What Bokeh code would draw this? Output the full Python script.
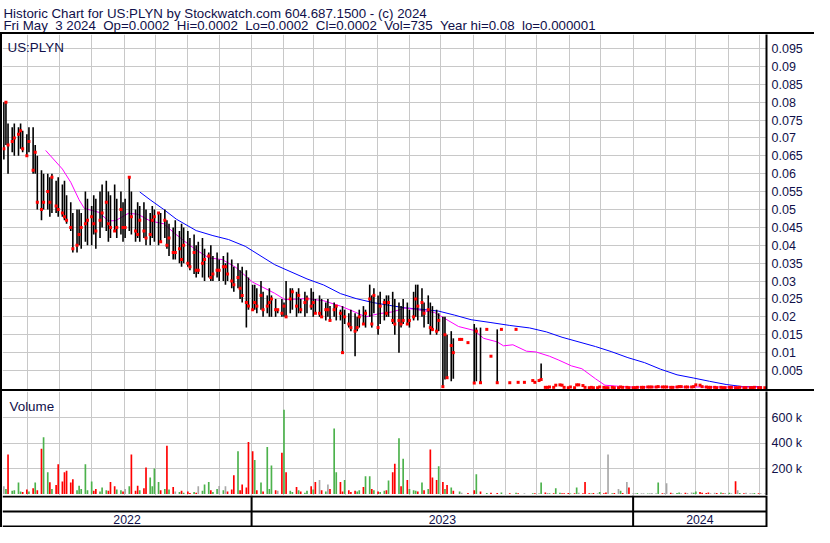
import numpy as np
import pandas as pd
from bokeh.plotting import figure
from bokeh.layouts import column, row
from bokeh.models import (Range1d, FixedTicker, MonthsTicker, Div, Span, Label,
                          ColumnDataSource)
from bokeh.embed import file_html
from bokeh.resources import INLINE
from bokeh.core.properties import value

# ---------------------------------------------------------------- texts
TITLE_1 = "Historic Chart for US:PLYN by Stockwatch.com 604.687.1500 - (c) 2024"
TITLE_2 = ("Fri May  3 2024  Op=0.0002  Hi=0.0002  Lo=0.0002  Cl=0.0002  "
           "Vol=735  Year hi=0.08  lo=0.000001")
SYMBOL = "US:PLYN"
VOLUME_TITLE = "Volume"

# ---------------------------------------------------------------- data
# one session out of every two trading days, starting here (None = no trade)
FIRST_SESSION = "2022-05-09"

# prices in thousandths of a dollar
HIGH_MILLI = [
    80, 80, 74, 73, 74, 73, 74, 72, 71, 73,
    73, 68, 65, 61, 60, 60, 59, 60, 58, 59,
    57, 58, 54, 52, 49, 50, 50, 49, 55, 53,
    51, 54, 53, 55, 57, 58, 55, 54, 57, 53,
    55, 52, 53, 59, 55, 50, 52, 51, 52, 50,
    49, 51, 50, 49, 49, 50, 47, 46, 45, 47,
    44, 46, 45, 44, 42, 43, 40, 41, 42, 39,
    38, 40, 37, 38, 36, 37, 35, 38, 36, 34,
    35, 33, 34, 33, 31, 29, 29, 28, 30, 27,
    26, 28, 26, 25, 22, 25, 24, 30, 28, 28,
    27, 28, 25, 27, 26, 28, 27, 25, 26, 25,
    24, 25, 23, 24, 23, 22, 23, 22, 21, 22,
    21, 20, 22, 23, 22, 29, 26, 28, 26, 27,
    25, 26, 26, 27, 25, 24, 23, 25, 24, 22,
    27, 29, 29, 28, 24, 26, 24, 23, 22, 21,
    20, 20, 15, 16, 14, None, 13.7, 13.7, None, 12.8,
    None, 18, 17, 17, None, 16.5, None, 9, None, 16.5,
    16.5, None, None, 1.6, None, 16.5, 1.7, None, 1.7, None,
    None, 2.2, 1.7, 2.2, 7, 0.3, 0.3, 0.4, 0.3, 0.9,
    1.0, 0.9, 0.6, 0.2, 0.4, 0.2, 1.0, 1.0, 0.8, 0.3,
    0.2, 0.3, 0.2, 0.2, 0.4, 0.3, 0.2, 0.2, 0.3, 0.2,
    0.2, 0.4, 0.3, 0.3, 0.2, 0.2, 0.2, 0.3, 0.3, 0.3,
    0.4, 0.4, 0.4, 0.4, 0.5, 0.4, 0.4, 0.4, 0.3, 0.3,
    0.4, 0.5, 0.5, 0.4, 0.4, 0.4, 0.5, 1.0, 0.9, 0.5,
    0.4, 0.3, 0.3, 0.3, 0.2, 0.3, 0.2, 0.2, 0.3, 0.3,
    0.2, 0.2, 0.3, 0.2, 0.2, 0.2, 0.2, 0.3, 0.2, 0.2,
    0.2,
]
LOW_MILLI = [
    64, 68, 60, 66, 65, 65, 67, 66, 65, 66,
    60, 60, 50, 47, 50, 50, 48, 49, 49, 48,
    48, 47, 46, 44, 38, 38, 40, 39, 41, 40,
    40, 43, 39, 42, 45, 44, 41, 42, 44, 42,
    43, 41, 42, 44, 43, 41, 42, 41, 42, 40,
    40, 42, 41, 40, 41, 42, 39, 37, 36, 36,
    35, 34, 35, 34, 33, 32, 31, 32, 31, 30,
    31, 30, 30, 31, 30, 30, 29, 30, 28, 27,
    28, 25, 24, 17, 22, 22, 22, 21, 22, 20,
    21, 20, 20, 20, 21, 20, 20, 20, 21, 22,
    20, 21, 21, 20, 21, 22, 20, 21, 20, 20,
    19, 20, 19, 20, 19, 19, 10, 18, 17, 16,
    9, 16, 17, 18, 17, 20, 17, 21, 15, 18,
    19, 20, 20, 18, 15, 10, 17, 18, 18, 17,
    19, 20, 19, 20, 17, 18, 15, 16, 15, 16,
    0.5, 2.5, 3, 2, 2.7, None, 13.7, 13.7, None, 12.8,
    None, 1.5, 2, 1.6, None, 16.5, None, 9, None, 1.6,
    16.5, None, None, 1.6, None, 16.5, 1.7, None, 1.7, None,
    None, 2.2, 1.7, 2.2, 2.2, 0.3, 0.3, 0.4, 0.3, 0.9,
    1.0, 0.9, 0.3, 0.2, 0.4, 0.2, 1.0, 1.0, 0.8, 0.3,
    0.2, 0.3, 0.2, 0.2, 0.4, 0.3, 0.2, 0.2, 0.3, 0.2,
    0.2, 0.4, 0.3, 0.3, 0.2, 0.2, 0.2, 0.3, 0.3, 0.3,
    0.4, 0.4, 0.4, 0.4, 0.5, 0.4, 0.4, 0.4, 0.3, 0.3,
    0.4, 0.5, 0.5, 0.4, 0.4, 0.4, 0.5, 1.0, 0.9, 0.5,
    0.4, 0.3, 0.3, 0.3, 0.2, 0.3, 0.2, 0.2, 0.3, 0.3,
    0.2, 0.2, 0.3, 0.2, 0.2, 0.2, 0.2, 0.3, 0.2, 0.2,
    0.2,
]
CLOSE_MILLI = [
    67, 80, 68, 69, 70, 71, 72, 67, 65, 69,
    61, 66, 52, 50, 52, 55, 52, 59, 51, 50,
    49, 48, 47, 45, 39, 40, 43, 45, 46, 47,
    48, 46, 44, 47, 49, 52, 46, 45, 44, 45,
    50, 45, 45, 59, 48, 44, 43, 47, 44, 42,
    43, 47, 48, 49, 41, 47, 40, 42, 38, 38,
    39, 36, 40, 35, 34, 38, 33, 33, 35, 36,
    37, 31, 32, 33, 33, 34, 34, 32, 30, 29,
    31, 28, 26, 24, 23, 22, 24, 23, 26, 22,
    23, 24, 25, 22, 22, 21, 23, 20, 25, 27,
    23, 26, 22, 24, 25, 23, 24, 21, 21, 20,
    22, 22, 19, 22, 23, 21, 10, 20, 18, 17,
    16, 17, 20, 18, 21, 25, 18, 26, 17, 23,
    24, 21, 24, 19, 18, 19, 18, 19, 18, 19,
    20, 25, 23, 24, 21, 22, 17, 16.5, 16, 19,
    0.5, 15, 3, 12, 10, None, 13.7, 13.7, None, 12.8,
    None, 1.5, 16, 1.6, None, 16.5, None, 9, None, 1.6,
    16.5, None, None, 1.6, None, 16.5, 1.7, None, 1.7, None,
    None, 2.2, 1.7, 2.2, 2.5, 0.3, 0.3, 0.4, 0.3, 0.9,
    1.0, 0.9, 0.3, 0.2, 0.4, 0.2, 1.0, 1.0, 0.8, 0.3,
    0.2, 0.3, 0.2, 0.2, 0.4, 0.3, 0.2, 0.2, 0.3, 0.2,
    0.2, 0.4, 0.3, 0.3, 0.2, 0.2, 0.2, 0.3, 0.3, 0.3,
    0.4, 0.4, 0.4, 0.4, 0.5, 0.4, 0.4, 0.4, 0.3, 0.3,
    0.4, 0.5, 0.5, 0.4, 0.4, 0.4, 0.5, 1.0, 0.9, 0.5,
    0.4, 0.3, 0.3, 0.3, 0.2, 0.3, 0.2, 0.2, 0.3, 0.3,
    0.2, 0.2, 0.3, 0.2, 0.2, 0.2, 0.2, 0.3, 0.2, 0.2,
    0.2,
]
# volume in thousands of shares
VOLUME_K = [
    60, 40, 310, 25, 30, 90, 20, 15, 35, 20,
    45, 90, 30, 356, 446, 170, 92, 40, 70, 233,
    97, 170, 182, 90, 115, 30, 65, 40, 233, 30,
    97, 25, 40, 20, 50, 30, 25, 95, 60, 35,
    30, 20, 40, 60, 310, 25, 65, 30, 45, 207,
    130, 60, 200, 95, 30, 40, 379, 35, 55, 20,
    15, 25, 10, 20, 8, 15, 10, 60, 25, 75,
    95, 30, 15, 40, 62, 30, 60, 20, 35, 148,
    336, 30, 75, 50, 408, 336, 267, 30, 90, 20,
    369, 40, 223, 30, 25, 323, 661, 170, 25, 15,
    55, 30, 20, 10, 25, 60, 35, 95, 110, 30,
    20, 75, 40, 515, 170, 95, 20, 110, 30, 15,
    25, 20, 30, 55, 140, 140, 40, 30, 20, 15,
    25, 30, 105, 170, 238, 438, 60, 277, 110, 40,
    30, 25, 20, 90, 30, 40, 349, 130, 110, 217,
    95, 40, 70, 50, 25, 0, 20, 10, 0, 8,
    0, 30, 155, 20, 0, 8, 0, 10, 0, 8,
    12, 0, 0, 5, 0, 10, 5, 0, 6, 0,
    0, 5, 6, 4, 90, 12, 8, 5, 6, 45,
    10, 6, 5, 8, 4, 6, 50, 10, 6, 95,
    5, 4, 8, 6, 15, 5, 12, 310, 6, 8,
    40, 25, 8, 95, 50, 6, 5, 8, 6, 5,
    4, 6, 8, 5, 90, 6, 8, 85, 10, 6,
    8, 12, 6, 10, 8, 12, 10, 20, 15, 10,
    8, 12, 6, 10, 8, 12, 6, 8, 10, 6,
    100, 30, 8, 6, 10, 5, 6, 8, 5, 6,
    4,
]

# short moving average (magenta), thousandths of a dollar
FAST_MA_DATES = [
    "2022-06-18", "2022-07-04", "2022-07-12", "2022-07-20", "2022-07-25",
    "2022-08-08", "2022-08-17", "2022-08-24", "2022-09-05", "2022-09-14",
    "2022-09-26", "2022-10-09", "2022-10-18", "2022-10-28", "2022-11-09",
    "2022-11-21", "2022-12-04", "2022-12-17", "2023-01-02", "2023-01-23",
    "2023-02-02", "2023-02-23", "2023-03-11", "2023-03-27", "2023-04-08",
    "2023-04-20", "2023-05-03", "2023-05-16", "2023-05-28", "2023-06-13",
    "2023-06-25", "2023-07-08", "2023-07-18", "2023-08-02", "2023-08-11",
    "2023-08-24", "2023-08-30", "2023-09-08", "2023-09-21", "2023-09-30",
    "2023-10-13", "2023-10-22", "2023-11-03", "2023-11-13", "2023-11-26",
    "2023-12-05", "2023-12-27", "2024-02-21", "2024-05-03",
]
FAST_MA_MILLI = [
    66.5, 61.3, 57.6, 52.7, 50.3, 49.2, 46.8, 46.9, 48.9, 48.7,
    46.8, 46.0, 43.7, 41.3, 38.7, 36.5, 36.0, 33.8, 29.7, 26.6,
    24.8, 25.1, 24.5, 23.0, 21.6, 20.0, 20.9, 21.4, 22.5, 21.8,
    21.2, 19.0, 17.3, 16.2, 14.0, 13.0, 11.9, 12.2, 10.4, 10.2,
    9.0, 7.9, 6.3, 5.5, 2.7, 0.9, 0.4, 0.4, 0.4,
]
# long moving average (blue), thousandths of a dollar
SLOW_MA_DATES = [
    "2022-09-16", "2022-09-26", "2022-10-09", "2022-10-21", "2022-11-09",
    "2022-11-25", "2022-12-10", "2022-12-26", "2023-01-23", "2023-02-02",
    "2023-02-23", "2023-03-11", "2023-03-27", "2023-04-11", "2023-04-27",
    "2023-05-13", "2023-05-28", "2023-06-13", "2023-06-29", "2023-07-14",
    "2023-07-30", "2023-08-18", "2023-09-05", "2023-09-24", "2023-10-10",
    "2023-10-25", "2023-11-26", "2023-12-11", "2023-12-27", "2024-01-12",
    "2024-01-27", "2024-02-12", "2024-02-28", "2024-03-14", "2024-03-30",
    "2024-04-15", "2024-05-03",
]
SLOW_MA_MILLI = [
    54.9, 52.7, 50.0, 47.3, 44.1, 42.7, 41.6, 39.7, 34.6, 33.3,
    30.6, 28.9, 26.5, 25.1, 24.0, 23.2, 22.5, 22.1, 21.6, 20.5,
    19.2, 18.4, 17.6, 16.9, 15.8, 14.3, 11.7, 10.3, 8.6, 7.2,
    5.4, 3.8, 2.9, 2.0, 1.1, 0.5, 0.5,
]

PRICE_TICKS = [0.005, 0.01, 0.015, 0.02, 0.025, 0.03, 0.035, 0.04, 0.045, 0.05,
               0.055, 0.06, 0.065, 0.07, 0.075, 0.08, 0.085, 0.09, 0.095]
PRICE_TICK_LABELS = ["0.005", "0.01", "0.015", "0.02", "0.025", "0.03", "0.035",
                     "0.04", "0.045", "0.05", "0.055", "0.06", "0.065", "0.07",
                     "0.075", "0.08", "0.085", "0.09", "0.095"]
VOLUME_TICKS = [200000, 400000, 600000]
VOLUME_TICK_LABELS = ["200 k", "400 k", "600 k"]
YEARS = [2022, 2023, 2024]
VIEW_START = "2022-05-07 16:48"
VIEW_END = "2024-05-07 14:24"
PRICE_VIEW = (-0.0003, 0.0989)
VOLUME_VIEW = (-12000, 805000)

# ---------------------------------------------------------------- style
FONT = "Liberation Sans"
NAVY = "#10104a"
GRID_COLOR = "#c8c8c8"
UP, DOWN, FLAT = "#4cb24c", "#ff0000", "#a8a8a8"
TOTAL_W = 814
PANEL_W = 812
RIGHT_W = 48
H_HEAD, H_PRICE, H_VOL, H_DATE = 32, 355, 104, 32

# ---------------------------------------------------------------- prepare
dates = pd.bdate_range(FIRST_SESSION, periods=len(CLOSE_MILLI), freq="2B")
high = np.array(HIGH_MILLI, dtype=float) / 1000.0
low = np.array(LOW_MILLI, dtype=float) / 1000.0
close = np.array(CLOSE_MILLI, dtype=float) / 1000.0
volume = np.array(VOLUME_K, dtype=float) * 1000.0
last = pd.Series(close).ffill().to_numpy()
prev = np.concatenate([[last[0]], last[:-1]])
vcolor = np.where(last > prev, UP, np.where(last < prev, DOWN, FLAT))

src = ColumnDataSource(dict(date=dates, high=high, low=low, close=close,
                            volume=volume, vcolor=vcolor))

x_range = Range1d(pd.Timestamp(VIEW_START), pd.Timestamp(VIEW_END))


def panel(height, y_range, ticks, labels):
    p = figure(width=PANEL_W, height=height, x_range=x_range, y_range=y_range,
               x_axis_type="datetime", x_axis_location=None,
               y_axis_location="right", output_backend="svg",
               toolbar_location=None, min_border_left=0,
               min_border_right=RIGHT_W, min_border_top=0, min_border_bottom=0,
               outline_line_color=None, background_fill_color="white",
               border_fill_color="white")
    for g in p.xgrid:
        g.ticker = MonthsTicker(months=list(range(1, 13)))
    p.xgrid.grid_line_color = GRID_COLOR
    p.ygrid.grid_line_color = GRID_COLOR
    ax = p.yaxis[0]
    ax.ticker = FixedTicker(ticks=ticks)
    ax.major_label_overrides = dict(zip(ticks, labels))
    ax.axis_line_color = "black"
    ax.axis_line_width = 2
    ax.major_tick_line_color = None
    ax.minor_tick_line_color = None
    ax.major_tick_out = 0
    ax.major_tick_in = 0
    ax.major_label_standoff = 5
    ax.major_label_text_font = FONT
    ax.major_label_text_font_size = "12.5px"
    ax.major_label_text_color = NAVY
    return p


def strip(w, h):
    return Div(text="", width=w, height=h, margin=(0, 0, 0, 0),
               styles={"background-color": "black"})


def keep_spaces(s):
    return s.replace("  ", " \u00a0")


# header
header = figure(width=TOTAL_W, height=H_HEAD, x_range=Range1d(0, 1),
                y_range=Range1d(0, 1), x_axis_location=None,
                y_axis_location=None, output_backend="svg",
                toolbar_location=None, min_border=0, outline_line_color=None)
header.xgrid.visible = False
header.ygrid.visible = False
for txt, yy in ((TITLE_1, 19.5), (TITLE_2, 7.0)):
    header.add_layout(Label(x=3, y=yy, x_units="screen", y_units="screen",
                            text=keep_spaces(txt), text_font=FONT,
                            text_font_size="13.3px", text_color=NAVY,
                            text_baseline="alphabetic"))

# price panel
price = panel(H_PRICE, Range1d(*PRICE_VIEW), PRICE_TICKS, PRICE_TICK_LABELS)
price.line(x=pd.to_datetime(SLOW_MA_DATES), y=np.array(SLOW_MA_MILLI) / 1000.0,
           line_color="#0000ff", line_width=1)
price.line(x=pd.to_datetime(FAST_MA_DATES), y=np.array(FAST_MA_MILLI) / 1000.0,
           line_color="#ff00ff", line_width=1)
price.segment(x0="date", y0="low", x1="date", y1="high", source=src,
              line_color="black", line_width=1.6)
price.scatter(x="date", y="close", source=src, marker="square", size=3,
              fill_color="#ff0000", line_color=None)
price.add_layout(Label(x=5, y=H_PRICE - 12.5, x_units="screen", y_units="screen",
                       text=SYMBOL, text_font=FONT, text_font_size="13.4px",
                       text_color=NAVY, text_baseline="alphabetic"))

# volume panel
vol = panel(H_VOL, Range1d(*VOLUME_VIEW), VOLUME_TICKS, VOLUME_TICK_LABELS)
vol.vbar(x="date", top="volume", bottom=0, width=1.6 * 86400000, source=src,
         fill_color="vcolor", line_color=None)
vol.add_layout(Label(x=7, y=H_VOL - 15, x_units="screen", y_units="screen",
                     text=VOLUME_TITLE, text_font=FONT, text_font_size="13.4px",
                     text_color=NAVY, text_baseline="alphabetic"))

# date band
datebar = panel(H_DATE, Range1d(0, H_DATE), [], [])
datebar.xgrid.visible = False
datebar.ygrid.visible = False
for yy in (H_DATE - 1, H_DATE / 2, 1):
    datebar.add_layout(Span(location=yy, dimension="width", line_color="black",
                            line_width=2))
v0, v1 = pd.Timestamp(VIEW_START), pd.Timestamp(VIEW_END)
mids = []
for yr in YEARS:
    a = max(pd.Timestamp(f"{yr}-01-01"), v0)
    b = min(pd.Timestamp(f"{yr + 1}-01-01"), v1)
    mids.append(a + (b - a) / 2)
    if pd.Timestamp(f"{yr}-01-01") > v0:
        datebar.add_layout(Span(location=pd.Timestamp(f"{yr}-01-01"),
                                dimension="height", line_color="black",
                                line_width=2))
datebar.text(x=mids, y=[H_DATE / 4] * len(YEARS), text=[str(y) for y in YEARS],
             text_font=value(FONT), text_font_size="12.3px", text_color=NAVY,
             text_align="center", text_baseline="middle")

layout = column(
    header,
    strip(TOTAL_W, 2),
    row(strip(2, H_PRICE), price),
    strip(TOTAL_W, 2),
    row(strip(2, H_VOL), vol),
    row(strip(2, H_DATE), datebar),
)

open("out.html", "w").write(file_html(layout, INLINE))
